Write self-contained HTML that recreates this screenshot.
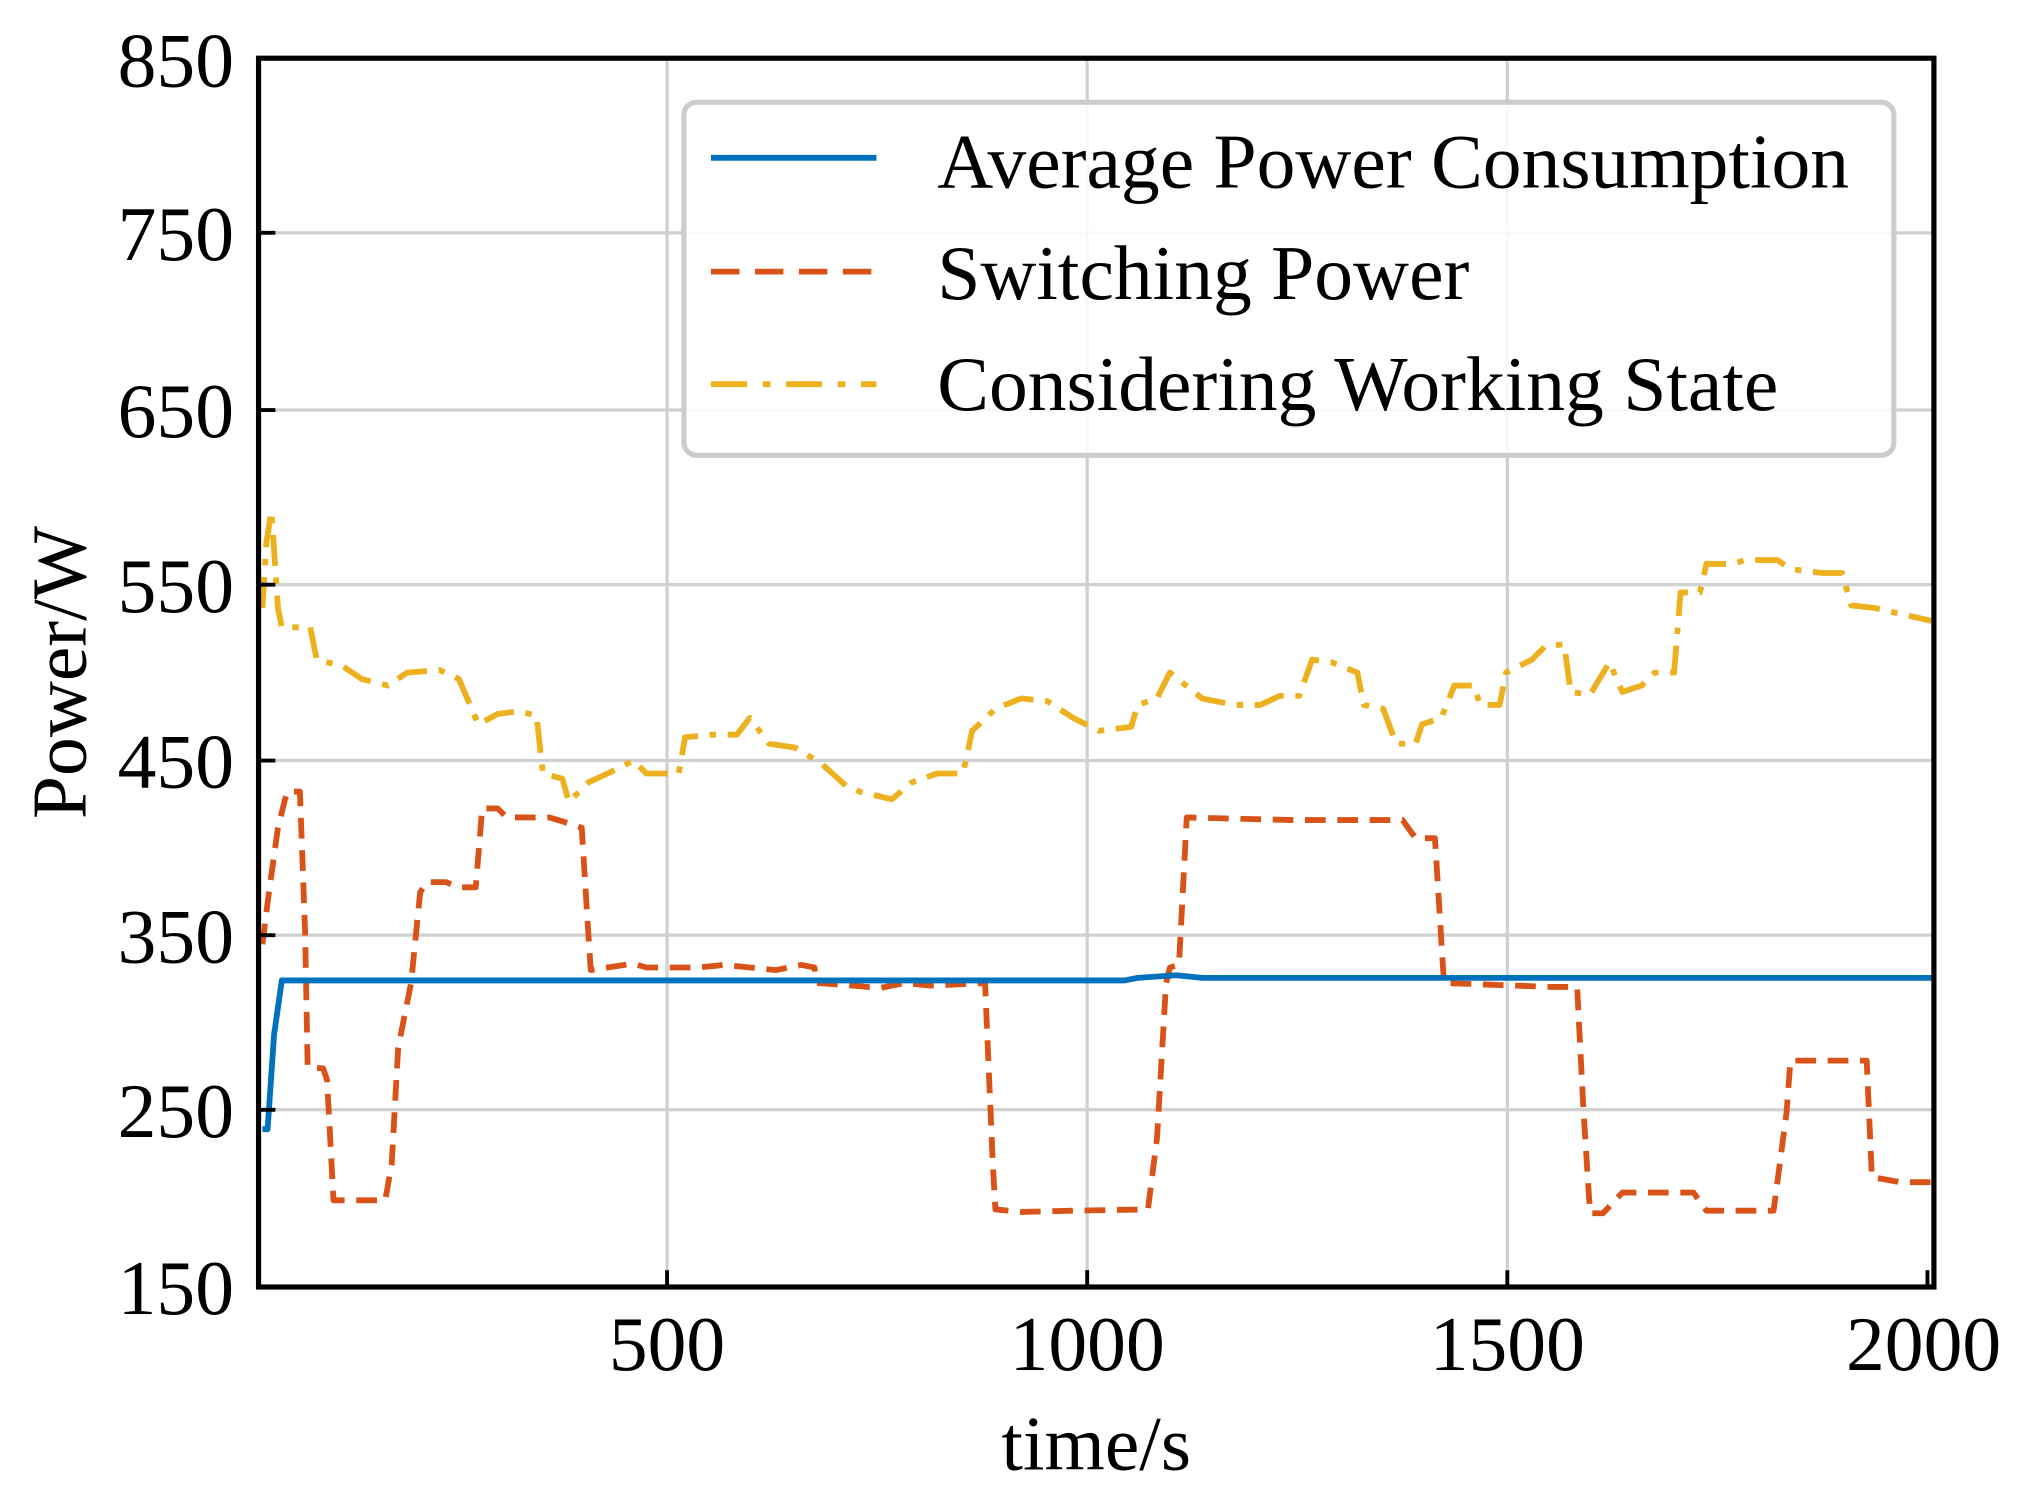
<!DOCTYPE html>
<html><head><meta charset="utf-8"><style>html,body{margin:0;padding:0;background:#fff}svg{display:block}</style></head><body>
<svg width="2027" height="1503" viewBox="0 0 1568 1162" preserveAspectRatio="none" xmlns="http://www.w3.org/2000/svg" font-family="'Liberation Serif',serif">
<rect width="1568" height="1162" fill="#fff"/>
<g stroke="#d0d0d0" stroke-width="2.5">
<line x1="516" y1="45" x2="516" y2="995"/><line x1="841" y1="45" x2="841" y2="995"/><line x1="1166" y1="45" x2="1166" y2="995"/>
<line x1="200" y1="180" x2="1496" y2="180"/><line x1="200" y1="317" x2="1496" y2="317"/><line x1="200" y1="452" x2="1496" y2="452"/><line x1="200" y1="588" x2="1496" y2="588"/><line x1="200" y1="723" x2="1496" y2="723"/><line x1="200" y1="858" x2="1496" y2="858"/>
</g>
<g fill="none" stroke-width="4.5" stroke-linejoin="round">
<polyline stroke="#EDB120" stroke-dasharray="24,9,5,9" points="203,470 206,420 210,395 213,440 215,470 218,485 240,485 245,510 265,515 280,525 300,530 315,520 340,518 355,525 370,560 385,552 400,550 415,553 420,598 435,602 440,620 455,605 470,598 490,588 500,598 525,598 530,570 550,568 570,568 580,555 595,575 615,578 635,590 655,608 665,612 690,618 705,605 725,598 745,598 752,565 770,548 790,540 810,542 830,555 850,565 875,562 880,545 895,540 905,520 915,528 930,540 955,545 975,545 990,538 1005,538 1015,510 1030,512 1050,520 1055,545 1070,548 1080,575 1095,575 1100,560 1115,555 1125,530 1140,530 1145,545 1160,545 1165,520 1185,510 1195,500 1210,498 1215,535 1230,537 1245,512 1255,535 1270,530 1280,520 1295,520 1300,458 1315,458 1320,436 1340,436 1350,433 1375,433 1385,440 1410,443 1425,443 1432,468 1450,470 1494,480"/>
<polyline stroke="#D95319" stroke-dasharray="16,9" points="203,730 208,690 215,640 222,612 232,612 236,720 238,825 250,826 253,835 258,928 298,928 303,900 308,810 318,760 325,690 330,682 345,682 355,686 368,686 373,625 385,625 392,632 425,632 435,635 450,640 455,720 457,750 470,748 490,745 500,748 540,748 560,746 580,748 600,750 620,746 630,748 632,760 660,762 680,764 700,760 720,762 762,760 768,900 770,935 790,937 830,936 888,935 895,880 902,760 905,748 912,746 918,632 1000,634 1085,634 1095,648 1110,648 1117,760 1200,763 1220,763 1225,860 1230,938 1240,938 1255,922 1310,922 1320,936 1372,936 1382,860 1385,820 1444,820 1448,910 1470,914 1496,914"/>
<polyline stroke="#0072BD" points="203,873 207,873 212,800 218,758 870,758 880,756 910,754 930,756 1496,756"/>
</g>
<rect x="200" y="45" width="1296" height="950" fill="none" stroke="#000" stroke-width="4"/>
<g stroke="#000" stroke-width="3">
<line x1="516" y1="995" x2="516" y2="982"/><line x1="841" y1="995" x2="841" y2="982"/><line x1="1166" y1="995" x2="1166" y2="982"/><line x1="1491" y1="995" x2="1491" y2="982"/>
<line x1="200" y1="180" x2="213" y2="180"/><line x1="200" y1="317" x2="213" y2="317"/><line x1="200" y1="452" x2="213" y2="452"/><line x1="200" y1="588" x2="213" y2="588"/><line x1="200" y1="723" x2="213" y2="723"/><line x1="200" y1="858" x2="213" y2="858"/>
</g>
<g font-size="60" text-anchor="end" fill="#000">
<text x="181" y="67">850</text><text x="181" y="201">750</text><text x="181" y="338">650</text><text x="181" y="473">550</text><text x="181" y="609">450</text><text x="181" y="744">350</text><text x="181" y="879">250</text><text x="181" y="1016">150</text>
</g>
<g font-size="60" text-anchor="middle" fill="#000">
<text x="516" y="1059">500</text><text x="841" y="1059">1000</text><text x="1166" y="1059">1500</text><text x="1488" y="1059">2000</text>
<text x="848" y="1136">time/s</text>
<text transform="translate(66,520) rotate(-90)">Power/W</text>
</g>
<rect x="529" y="79" width="936" height="273" rx="10" fill="#fff" fill-opacity="0.85" stroke="#ccc" stroke-width="4"/>
<line x1="550" y1="122" x2="678" y2="122" stroke="#0072BD" stroke-width="4.5"/>
<line x1="550" y1="210" x2="678" y2="210" stroke="#D95319" stroke-width="4.5" stroke-dasharray="22,12"/>
<line x1="550" y1="297" x2="678" y2="297" stroke="#EDB120" stroke-width="4.5" stroke-dasharray="28,12,6,12"/>
<g font-size="60" fill="#000">
<text x="725" y="145">Average Power Consumption</text>
<text x="725" y="231">Switching Power</text>
<text x="725" y="317">Considering Working State</text>
</g>
</svg>
</body></html>
